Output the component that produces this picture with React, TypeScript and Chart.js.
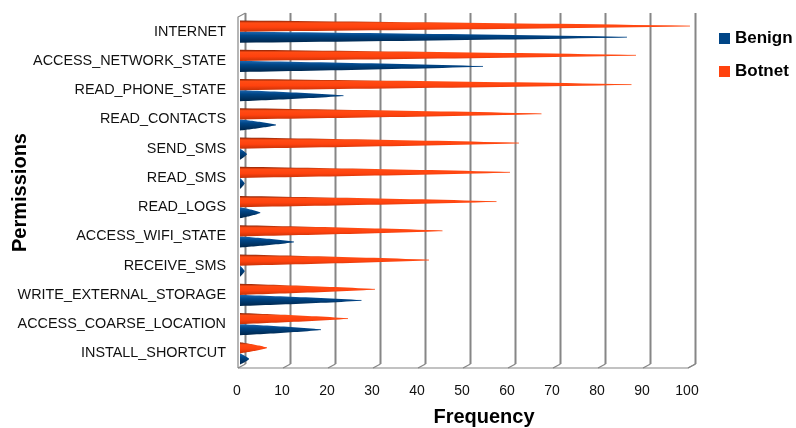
import { useEffect, useRef } from "react";
import { Chart, registerables } from "chart.js";
import type { Plugin } from "chart.js";

Chart.register(...registerables);

// Permission usage frequency per app family
const categories = [
  "INTERNET",
  "ACCESS_NETWORK_STATE",
  "READ_PHONE_STATE",
  "READ_CONTACTS",
  "SEND_SMS",
  "READ_SMS",
  "READ_LOGS",
  "ACCESS_WIFI_STATE",
  "RECEIVE_SMS",
  "WRITE_EXTERNAL_STORAGE",
  "ACCESS_COARSE_LOCATION",
  "INSTALL_SHORTCUT",
];
const botnetCounts = [100, 88, 87, 67, 62, 60, 57, 45, 42, 30, 24, 6];
const benignCounts = [86, 54, 23, 8, 1.5, 1, 4.5, 12, 1, 27, 18, 2];
const frequencyTicks = [0, 10, 20, 30, 40, 50, 60, 70, 80, 90, 100];

const FONT = "'Liberation Sans', Arial, Helvetica, sans-serif";
const BENIGN_COLOR = "#004586";
const BOTNET_COLOR = "#ff420e";

// Shading across each bar's thickness, for a lit pyramid look
const SHADES: Record<string, [number, string][]> = {
  Botnet: [
    [0, "#7e1f05"],
    [0.22, "#ff4c14"],
    [0.6, "#ff420e"],
    [1, "#c73207"],
  ],
  Benign: [
    [0, "#1d68b2"],
    [0.35, "#004586"],
    [1, "#00254a"],
  ],
};

// Depth of the pseudo-3D walls (px)
const DEPTH_X = 7.5;
const DEPTH_Y = 4;
const FRONT_SHIFT = -2;
const TAPER = 0.75;
const STEPS = 24;

const pyramidBars: Plugin<"bar"> = {
  id: "pyramidBars",
  beforeDatasetDraw(chart, args) {
    const { ctx } = chart;
    const ds = chart.data.datasets[args.index];
    const stops = SHADES[ds.label as string];
    ctx.save();
    for (const el of args.meta.data) {
      const { x, y, base, height } = (el as any).getProps(
        ["x", "y", "base", "height"],
        true
      );
      const half = height / 2;
      const len = x - base;
      const g = ctx.createLinearGradient(0, y - half, 0, y + half);
      stops.forEach(([o, c]) => g.addColorStop(o, c));
      ctx.fillStyle = g;
      ctx.beginPath();
      ctx.moveTo(base, y - half);
      for (let i = 1; i <= STEPS; i++) {
        const t = i / STEPS;
        ctx.lineTo(base + len * t, y - half * Math.pow(1 - t, TAPER));
      }
      for (let i = STEPS - 1; i >= 0; i--) {
        const t = i / STEPS;
        ctx.lineTo(base + len * t, y + half * Math.pow(1 - t, TAPER));
      }
      ctx.closePath();
      ctx.fill();
      // fine line running out to the tip
      ctx.strokeStyle = stops[1][1];
      ctx.lineWidth = 0.8;
      ctx.beginPath();
      ctx.moveTo(base + len * 0.6, y);
      ctx.lineTo(x, y);
      ctx.stroke();
    }
    ctx.restore();
    return false;
  },
};

const wallFrame: Plugin<"bar"> = {
  id: "wallFrame",
  beforeDatasetsDraw(chart) {
    const { ctx, chartArea, scales } = chart;
    const { left, right, top, bottom } = chartArea;
    const xs = scales.x;
    ctx.save();
    ctx.strokeStyle = "#868686";
    ctx.lineWidth = 2;
    // back wall grid lines
    for (const v of frequencyTicks) {
      const bx = xs.getPixelForValue(v) + FRONT_SHIFT + DEPTH_X;
      ctx.beginPath();
      ctx.moveTo(bx, top - DEPTH_Y);
      ctx.lineTo(bx, bottom - DEPTH_Y);
      ctx.stroke();
    }
    // floor edge and depth lines
    ctx.lineWidth = 1.2;
    const fl = left + FRONT_SHIFT;
    const fr = right + FRONT_SHIFT;
    ctx.beginPath();
    ctx.moveTo(fl, bottom);
    ctx.lineTo(fr, bottom);
    ctx.lineTo(fr + DEPTH_X, bottom - DEPTH_Y);
    ctx.stroke();
    for (const v of frequencyTicks) {
      const fx = xs.getPixelForValue(v) + FRONT_SHIFT;
      ctx.beginPath();
      ctx.moveTo(fx, bottom);
      ctx.lineTo(fx + DEPTH_X, bottom - DEPTH_Y);
      ctx.stroke();
    }
    // left wall front edge
    ctx.beginPath();
    ctx.moveTo(fl + DEPTH_X, top - DEPTH_Y);
    ctx.lineTo(fl, top);
    ctx.lineTo(fl, bottom);
    ctx.stroke();
    ctx.restore();
  },
};

export default function App() {
  const canvasRef = useRef<HTMLCanvasElement | null>(null);

  useEffect(() => {
    document.body.style.margin = "0";
    const canvas = canvasRef.current;
    if (!canvas) return;
    const chart = new Chart(canvas, {
      type: "bar",
      data: {
        labels: categories,
        datasets: [
          { label: "Botnet", data: botnetCounts, backgroundColor: BOTNET_COLOR },
          { label: "Benign", data: benignCounts, backgroundColor: BENIGN_COLOR },
        ],
      },
      options: {
        indexAxis: "y",
        animation: false,
        responsive: false,
        layout: { padding: { top: 17, right: 106, bottom: 0, left: 0 } },
        datasets: { bar: { categoryPercentage: 0.76, barPercentage: 1 } },
        plugins: {
          legend: { display: false },
          tooltip: { enabled: false },
        },
        scales: {
          x: {
            min: 0,
            max: 100,
            afterBuildTicks: (scale: any) => {
              scale.ticks = frequencyTicks.map((value) => ({ value }));
            },
            afterFit: (scale: any) => {
              scale.height = 60;
            },
            grid: { display: false, drawTicks: true, tickLength: 15 },
            border: { display: false },
            ticks: {
              labelOffset: -3,
              padding: 0,
              color: "#111",
              font: { family: FONT, size: 14 },
            },
          },
          y: {
            afterFit: (scale: any) => {
              scale.width = 240;
            },
            grid: { display: false, drawTicks: true, tickLength: 14 },
            border: { display: false },
            ticks: {
              padding: 0,
              color: "#111",
              font: { family: FONT, size: 14.4 },
            },
            title: {
              display: true,
              text: "Permissions",
              color: "#000",
              font: { family: FONT, size: 20, weight: "bold" },
              padding: { top: 8, bottom: 0 },
            },
          },
        },
      },
      plugins: [wallFrame, pyramidBars],
    });
    return () => chart.destroy();
  }, []);

  const legendText: React.CSSProperties = {
    position: "absolute",
    left: 735,
    font: `bold 17px ${FONT}`,
    lineHeight: "17px",
    color: "#000",
    whiteSpace: "nowrap",
  };
  const swatch: React.CSSProperties = {
    position: "absolute",
    left: 719,
    width: 11,
    height: 11,
  };

  return (
    <div style={{ position: "relative", width: 796, height: 428, background: "#fff" }}>
      <canvas ref={canvasRef} width={796} height={428} style={{ display: "block" }} />
      <div
        style={{
          position: "absolute",
          left: 384,
          width: 200,
          top: 406,
          textAlign: "center",
          font: `bold 20px ${FONT}`,
          lineHeight: "20px",
          color: "#000",
        }}
      >
        Frequency
      </div>
      <div style={{ ...swatch, top: 33, background: BENIGN_COLOR }} />
      <div style={{ ...legendText, top: 29 }}>Benign</div>
      <div style={{ ...swatch, top: 66, background: BOTNET_COLOR }} />
      <div style={{ ...legendText, top: 62 }}>Botnet</div>
    </div>
  );
}
